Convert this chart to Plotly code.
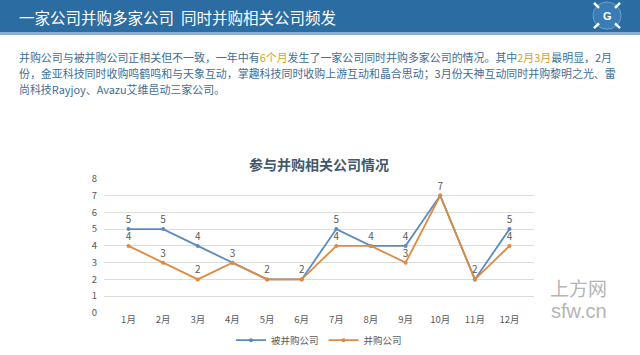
import plotly.graph_objects as go

months = ["1月", "2月", "3月", "4月", "5月", "6月", "7月", "8月", "9月", "10月", "11月", "12月"]
acquired = [5, 5, 4, 3, 2, 2, 5, 4, 4, 7, 2, 5]     # 被并购公司
acquirer = [4, 3, 2, 3, 2, 2, 4, 4, 3, 7, 2, 4]     # 并购公司
y_ticks = [0, 1, 2, 3, 4, 5, 6, 7, 8]

W, H = 640, 355
BLUE = "#5B8BBE"
ORANGE = "#DF8A3E"
GRAY = "#595959"
FONT = "Noto Sans CJK SC"

# labels: hide the second label where both series share the same point
acq_text = [str(v) for v in acquired]
acr_text = ["" if a == b else str(b) for a, b in zip(acquired, acquirer)]

fig = go.Figure()
fig.add_trace(go.Scatter(
    x=months, y=acquired, name="被并购公司", mode="lines+markers+text",
    line=dict(color=BLUE, width=1.8), marker=dict(color=BLUE, size=4),
    text=acq_text, textposition="top center",
    textfont=dict(color=GRAY, size=10, family=FONT), cliponaxis=False))
fig.add_trace(go.Scatter(
    x=months, y=acquirer, name="并购公司", mode="lines+markers+text",
    line=dict(color=ORANGE, width=1.8), marker=dict(color=ORANGE, size=4),
    text=acr_text, textposition="top center",
    textfont=dict(color=GRAY, size=10, family=FONT), cliponaxis=False))

x0, x1 = 104 / W, 534 / W
y0, y1 = (H - 322) / H, (H - 184) / H

shapes = [
    dict(type="rect", xref="paper", yref="paper", x0=0, x1=1, y0=1 - 33 / H, y1=1,
         fillcolor="#2B6CA3", line=dict(width=0), layer="below"),
    dict(type="rect", xref="paper", yref="paper", x0=0, x1=1, y0=1 - 36 / H, y1=1 - 33 / H,
         fillcolor="#8DB0D0", line=dict(width=0), layer="below"),
    dict(type="circle", xref="paper", yref="paper",
         x0=(607 - 14) / W, x1=(607 + 14) / W, y0=1 - (16 + 14) / H, y1=1 - (16 - 14) / H,
         fillcolor="#3A7CB6", line=dict(color="#6E9FCB", width=1)),
]
for dx, dy in [(-1, -1), (1, -1), (-1, 1), (1, 1)]:
    shapes.append(dict(type="line", xref="paper", yref="paper",
                       x0=(607 + dx * 8) / W, y0=1 - (16 + dy * 8) / H,
                       x1=(607 + dx * 13) / W, y1=1 - (16 + dy * 13) / H,
                       line=dict(color="white", width=2.5)))

annotations = [
    dict(text="一家公司并购多家公司  同时并购相关公司频发", x=17 / W, y=1 - 17 / H,
         xref="paper", yref="paper", xanchor="left", yanchor="middle", showarrow=False,
         font=dict(color="white", size=15.5, family=FONT)),
    dict(text="<b>G</b>", x=607 / W, y=1 - 16 / H, xref="paper", yref="paper",
         xanchor="center", yanchor="middle", showarrow=False,
         font=dict(color="white", size=11, family="Liberation Sans")),
    dict(text="<b>参与并购相关公司情况</b>", x=(x0 + x1) / 2, y=1 - 169 / H, xref="paper", yref="paper",
         xanchor="center", yanchor="middle", showarrow=False,
         font=dict(color="#44586B", size=14, family=FONT)),
    dict(text="上方网", x=578 / W, y=1 - 296 / H, xref="paper", yref="paper",
         xanchor="center", yanchor="middle", showarrow=False,
         font=dict(color="#B5B5B5", size=19, family=FONT)),
    dict(text="sfw.cn", x=579 / W, y=1 - 320 / H, xref="paper", yref="paper",
         xanchor="center", yanchor="middle", showarrow=False,
         font=dict(color="#B5B5B5", size=20, family="Liberation Sans")),
]

TXT = "#3F6E94"
HL = "#D4A22A"
lines = [
    f"并购公司与被并购公司正相关但不一致，一年中有<span style='color:{HL}'>6个月</span>发生了一家公司同时并购多家公司的情况。其中<span style='color:{HL}'>2月3月</span>最明显，2月",
    "份，金亚科技同时收购鸣鹤鸣和与天象互动，掌趣科技同时收购上游互动和晶合思动；3月份天神互动同时并购黎明之光、雷",
    "尚科技Rayjoy、Avazu艾维邑动三家公司。",
]
for i, ln in enumerate(lines):
    annotations.append(dict(text=ln, x=17 / W, y=1 - (59 + 16.5 * i) / H, xref="paper", yref="paper",
                            xanchor="left", yanchor="middle", showarrow=False,
                            font=dict(color=TXT, size=10.95, family=FONT)))

fig.update_layout(
    width=W, height=H, margin=dict(l=0, r=0, t=0, b=0),
    paper_bgcolor="white", plot_bgcolor="white",
    font=dict(family=FONT, color=GRAY, size=10),
    shapes=shapes, annotations=annotations,
    showlegend=True,
    legend=dict(orientation="h", x=(x0 + x1) / 2, xanchor="center", y=1 - 350 / H, yanchor="middle",
                font=dict(size=9.5, color=GRAY, family=FONT), bgcolor="rgba(0,0,0,0)",
                itemwidth=30, tracegroupgap=0),
    xaxis=dict(domain=[x0, x1], showgrid=False, zeroline=False, showline=False,
               tickfont=dict(size=9.5, color=GRAY), ticks="", automargin=False),
    yaxis=dict(domain=[y0, y1], range=[0, 8], tickvals=y_ticks, showgrid=True,
               gridcolor="#DCDCDC", gridwidth=1, zeroline=False, showline=False,
               tickfont=dict(size=9.5, color=GRAY), ticks="", automargin=False,
               ticklabelstandoff=6),
)

fig.write_html("out.html")
